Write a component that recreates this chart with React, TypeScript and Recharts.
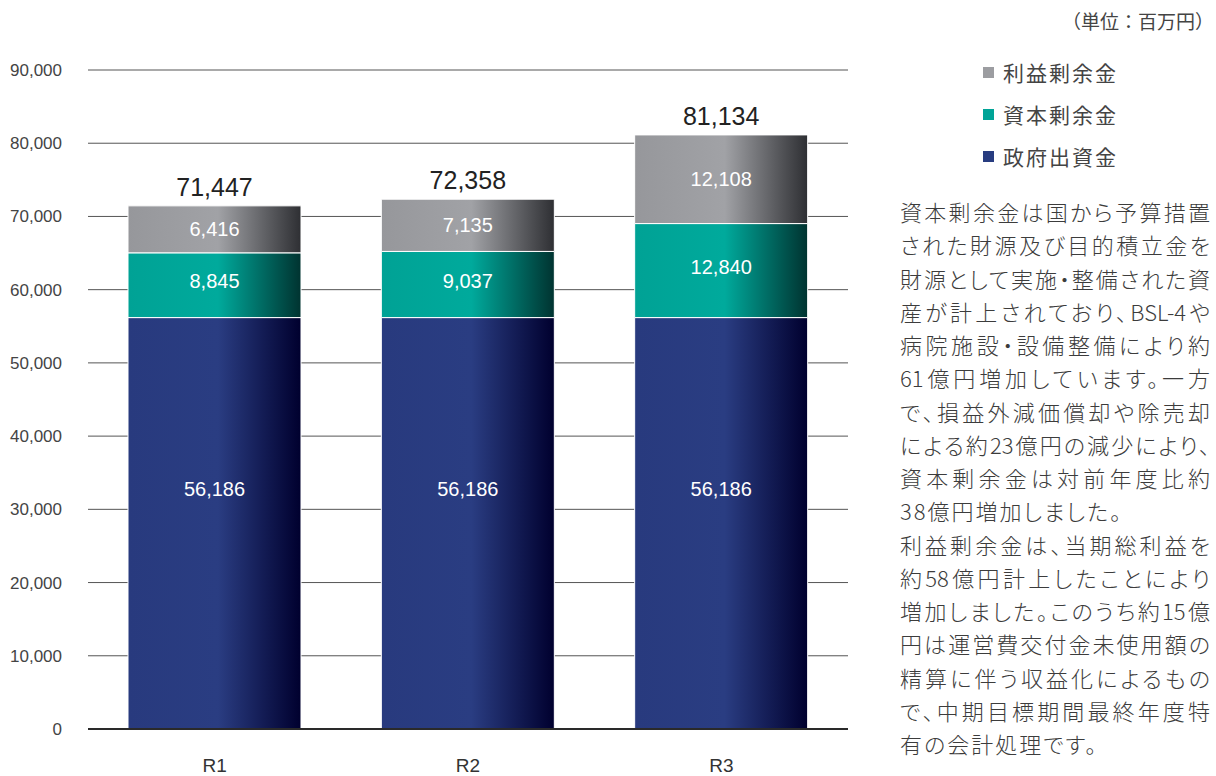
import { BarChart, Bar, XAxis, YAxis, CartesianGrid, LabelList } from 'recharts';

const categories = ['R1', 'R2', 'R3'];
const governmentCapital = [56186, 56186, 56186]; // 政府出資金
const capitalSurplus = [8845, 9037, 12840]; // 資本剰余金
const retainedEarnings = [6416, 7135, 12108]; // 利益剰余金
const yTicks = [0, 10000, 20000, 30000, 40000, 50000, 60000, 70000, 80000, 90000];

const legendItems = [
  { name: '利益剰余金', color: '#9c9da1' },
  { name: '資本剰余金', color: '#00a497' },
  { name: '政府出資金', color: '#283c80' },
];

const noteLines = [
  '資本剰余金は国から予算措置',
  'された財源及び目的積立金を',
  '財源として実施・整備された資',
  '産が計上されており、BSL-4や',
  '病院施設・設備整備により約',
  '61億円増加しています。一方',
  'で、損益外減価償却や除売却',
  'による約23億円の減少により、',
  '資本剰余金は対前年度比約',
  '38億円増加しました。',
  '利益剰余金は、当期総利益を',
  '約58億円計上したことにより',
  '増加しました。このうち約15億',
  '円は運営費交付金未使用額の',
  '精算に伴う収益化によるもの',
  'で、中期目標期間最終年度特',
  '有の会計処理です。',
];
const shortLines = [9, 16];

const chartData = categories.map((name, i) => ({
  name,
  gov: governmentCapital[i],
  capital: capitalSurplus[i],
  retained: retainedEarnings[i],
  total: governmentCapital[i] + capitalSurplus[i] + retainedEarnings[i],
}));

const fmt = (v: number) => v.toLocaleString('en-US');
const numFont = '"Liberation Sans", Arial, sans-serif';
const jpFont = '"Noto Sans CJK JP", sans-serif';

export default function App() {
  return (
    <div style={{ position: 'absolute', left: 0, top: 0, width: 1216, height: 776, background: '#fff', overflow: 'hidden' }}>
      <BarChart
        width={860}
        height={776}
        data={chartData}
        margin={{ top: 70, right: 12, left: 0, bottom: 0 }}
        barCategoryGap={80}
      >
        <defs>
          <linearGradient id="gGray" x1="0" y1="0" x2="1" y2="0">
            <stop offset="0%" stopColor="#96979b" />
            <stop offset="52%" stopColor="#a1a2a6" />
            <stop offset="100%" stopColor="#2e2f33" />
          </linearGradient>
          <linearGradient id="gTeal" x1="0" y1="0" x2="1" y2="0">
            <stop offset="0%" stopColor="#00a295" />
            <stop offset="52%" stopColor="#00aa9c" />
            <stop offset="100%" stopColor="#003330" />
          </linearGradient>
          <linearGradient id="gNavy" x1="0" y1="0" x2="1" y2="0">
            <stop offset="0%" stopColor="#283a7e" />
            <stop offset="52%" stopColor="#2a3d82" />
            <stop offset="100%" stopColor="#00002e" />
          </linearGradient>
        </defs>
        <CartesianGrid vertical={false} stroke="#555" />
        <XAxis
          dataKey="name"
          height={47}
          tickLine={false}
          axisLine={{ stroke: '#2a2a2a', strokeWidth: 2 }}
          tickMargin={24}
          tick={{ fill: '#333', fontSize: 19, fontFamily: numFont }}
        />
        <YAxis
          width={88}
          domain={[0, 90000]}
          ticks={yTicks}
          tickFormatter={fmt}
          axisLine={false}
          tickLine={false}
          tickMargin={20}
          tick={{ fill: '#444', fontSize: 17, fontFamily: numFont }}
        />
        <Bar dataKey="gov" stackId="a" barSize={173} fill="url(#gNavy)" stroke="#ffffff" strokeWidth={1} isAnimationActive={false}>
          <LabelList dataKey="gov" position="insideTop" offset={164} formatter={(v: any) => fmt(Number(v))} fill="#fff" fontSize={20} fontFamily={numFont} />
        </Bar>
        <Bar dataKey="capital" stackId="a" barSize={173} fill="url(#gTeal)" stroke="#ffffff" strokeWidth={1} isAnimationActive={false}>
          <LabelList dataKey="capital" position="center" offset={0} dy={-4} formatter={(v: any) => fmt(Number(v))} fill="#fff" fontSize={20} fontFamily={numFont} />
        </Bar>
        <Bar dataKey="retained" stackId="a" barSize={173} fill="url(#gGray)" stroke="#ffffff" strokeWidth={1} isAnimationActive={false}>
          <LabelList dataKey="retained" position="center" formatter={(v: any) => fmt(Number(v))} fill="#fff" fontSize={20} fontFamily={numFont} />
          <LabelList dataKey="total" position="top" offset={10} formatter={(v: any) => fmt(Number(v))} fill="#222" fontSize={25} fontFamily={numFont} />
        </Bar>
      </BarChart>

      <div style={{ position: 'absolute', right: 2, top: 7, fontFamily: jpFont, fontSize: 19, color: '#444', lineHeight: '28px', whiteSpace: 'nowrap' }}>
        （単位：百万円）
      </div>

      <div style={{ position: 'absolute', left: 983, top: 51, fontFamily: jpFont, color: '#444' }}>
        {legendItems.map((item) => (
          <div key={item.name} style={{ display: 'flex', alignItems: 'center', height: 42, fontSize: 21, letterSpacing: 2 }}>
            <span style={{ display: 'inline-block', width: 11, height: 11, background: item.color, marginRight: 9 }} />
            <span>{item.name}</span>
          </div>
        ))}
      </div>

      <div
        style={{
          position: 'absolute',
          left: 900,
          top: 195,
          width: 310,
          fontFamily: jpFont,
          fontSize: 22,
          fontWeight: 300,
          color: '#3c3c3c',
          lineHeight: '33.25px',
          fontFeatureSettings: '"palt"',
        }}
      >
        {noteLines.map((line, i) => (
          <div
            key={i}
            style={
              shortLines.includes(i)
                ? { whiteSpace: 'nowrap', letterSpacing: 2 }
                : { whiteSpace: 'nowrap', textAlign: 'justify', textAlignLast: 'justify' }
            }
          >
            {line}
          </div>
        ))}
      </div>
    </div>
  );
}
